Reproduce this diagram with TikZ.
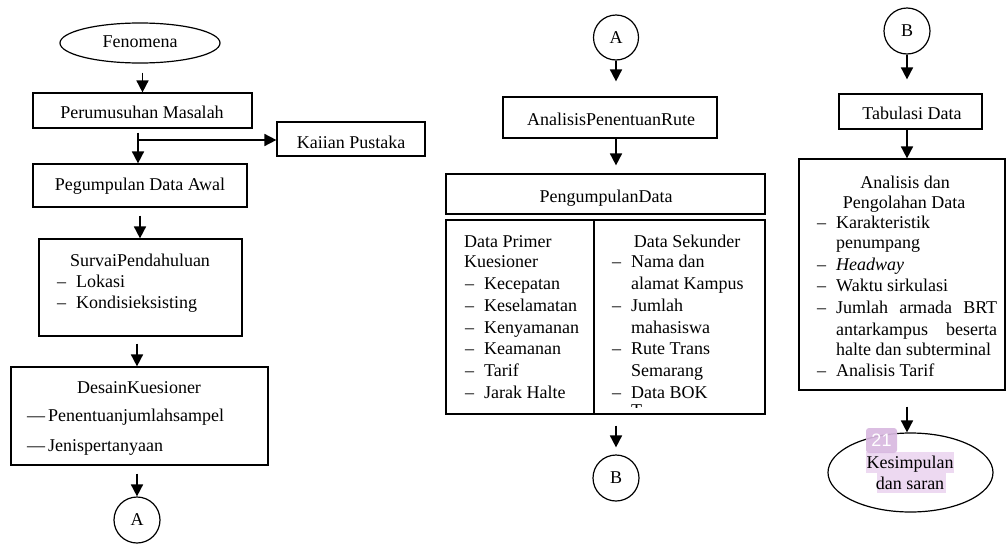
\documentclass[tikz,border=0pt]{standalone}
\usepackage{fontspec}
\setmainfont{Liberation Serif}
\newfontfamily\badgefont{Liberation Sans}
\usetikzlibrary{arrows.meta,shapes.geometric}
\newcommand\myfs{\fontsize{18}{21.5}\selectfont}
\definecolor{hl}{RGB}{237,217,241}
\definecolor{badgec}{RGB}{216,184,224}
\tikzset{
  box/.style={draw, line width=1.2pt, inner sep=0pt},
  ell/.style={draw, ellipse, line width=1.2pt, inner sep=0pt},
  circ/.style={draw, circle, line width=1.2pt, inner sep=0pt, minimum size=46pt},
  arr/.style={line width=1.7pt, -{Triangle[length=12pt,width=12pt]}},
  txt/.style={inner sep=0pt, font=\myfs},
  tl/.style={txt, anchor=base},
  tw/.style={txt, anchor=base west},
}
\begin{document}
\begin{tikzpicture}[x=1pt,y=-1pt]
\useasboundingbox (0,0) rectangle (1007,544);
% ---------------- left column ----------------
\node[ell, minimum width=160pt, minimum height=40pt] (fen) at (140,43) {};
\node[tl] (tfen) at (140,47) {Fenomena};
\node[box, minimum width=219pt, minimum height=35pt] (per) at (142.5,110.5) {};
\node[tl] (tper) at (142,118) {Perumusuhan Masalah};
\node[box, minimum width=148pt, minimum height=34pt] (kaj) at (351,139) {};
\node[tl] (tkaj) at (351,148) {Kaiian Pustaka};
\node[box, minimum width=214pt, minimum height=43pt] (peg) at (140,185.5) {};
\node[tl] (tpeg) at (140,190) {Pegumpulan Data Awal};
\node[box, minimum width=203pt, minimum height=97pt] (sur) at (140.5,287.5) {};
\node[tl] (tsur) at (140,266) {SurvaiPendahuluan};
\node[tw] (sd1) at (57,287) {–};
\node[tw] (si1) at (76,287) {Lokasi};
\node[tw] (sd2) at (57,308) {–};
\node[tw] (si2) at (76,308) {Kondisieksisting};
\node[box, minimum width=257pt, minimum height=98pt] (des) at (139.5,416) {};
\node[tl] (tdes) at (139,393) {DesainKuesioner};
\node[tw] (dd1) at (27,421) {—};
\node[tw] (di1) at (48,421) {Penentuanjumlahsampel};
\node[tw] (dd2) at (27,451) {—};
\node[tw] (di2) at (48,451) {Jenispertanyaan};
\node[circ, font=\myfs] (ca) at (137,520) {A};
\coordinate (j1) at (138,140);
\draw[arr, shorten <=9pt] (fen.south -| per.north) -- (per.north);
\draw[arr, shorten <=4pt] (per.south -| j1) -- (peg.north -| j1);
\draw[arr] (j1) -- (j1 -| kaj.west);
\draw[arr, shorten <=8pt] (peg.south) -- (peg.south |- sur.north);
\draw[arr, shorten <=7pt] (sur.south -| ca) -- (des.north -| ca);
\draw[arr, shorten <=8pt] (des.south -| ca) -- (ca.north);
% ---------------- middle column ----------------
\node[circ, minimum size=45pt, font=\myfs] (ca2) at (616,37.5) {A};
\node[box, minimum width=214pt, minimum height=41pt] (ana) at (610,117.5) {};
\node[tl] (tana) at (611,125) {AnalisisPenentuanRute};
\node[box, minimum width=319pt, minimum height=40pt] (pd) at (605.5,194) {};
\node[tl] (tpd) at (606,202) {PengumpulanData};
\node[box, minimum width=319pt, minimum height=194pt] (tab) at (605.5,317) {};
\coordinate (dv) at (594,0);
\draw[line width=1.2pt] (tab.north -| dv) -- (tab.south -| dv);
\node[tw] (p0) at (464,247) {Data Primer};
\node[tw] (p1) at (464,267) {Kuesioner};
\foreach \y/\t [count=\i] in {289/Kecepatan,311/Keselamatan,333/Kenyamanan,354/Keamanan,376/Tarif,398/Jarak Halte}{
  \node[tw] (pd\i) at (465,\y) {–};
  \node[tw] (pi\i) at (484,\y) {\t};
}
\node[tl] (s0) at (687,247) {Data Sekunder};
\foreach \y [count=\i] in {267,311,354,398}{
  \node[tw] (sd\i) at (612,\y) {–};
}
\node[tw] (s1) at (631,267) {Nama dan};
\node[tw] (s2) at (631,289) {alamat Kampus};
\node[tw] (s3) at (631,311) {Jumlah};
\node[tw] (s4) at (631,333) {mahasiswa};
\node[tw] (s5) at (631,354) {Rute Trans};
\node[tw] (s6) at (631,376) {Semarang};
\node[tw] (s7) at (631,398) {Data BOK};
\begin{scope}
  \clip (596,222) rectangle (763,407);
  \node[tw] (s8) at (631,416.5) {T};
\end{scope}
\node[circ, font=\myfs] (cb2) at (616,478) {B};
\draw[arr, shorten >=15pt] (ca2.south) -- (ca2.south |- ana.north);
\draw[arr, shorten >=8pt] (ana.south -| ca2) -- (pd.north -| ca2);
\draw[arr, shorten <=11pt, shorten >=7pt] (tab.south -| cb2) -- (cb2.north);
% ---------------- right column ----------------
\node[circ, font=\myfs] (cb3) at (907,31) {B};
\node[box, minimum width=143pt, minimum height=35pt] (tb) at (910.5,111.5) {};
\node[tl] (ttb) at (912,119) {Tabulasi Data};
\node[box, minimum width=206pt, minimum height=231pt] (an) at (902,274.5) {};
\node[tl] (a0) at (905,188) {Analisis dan};
\node[tl] (a1) at (904,208) {Pengolahan Data};
\foreach \y [count=\i] in {228,270,291,313,376}{
  \node[tw] (ad\i) at (817,\y) {–};
}
\node[tw] (a2) at (836,228) {Karakteristik};
\node[tw] (a3) at (836,248) {penumpang};
\node[tw] (a4) at (836,270) {\itshape Headway};
\node[tw] (a5) at (836,291) {Waktu sirkulasi};
\node[tw] (a6) at (836,313) {\makebox[161pt][s]{Jumlah armada BRT}};
\node[tw] (a7) at (836,335) {\makebox[161pt][s]{antarkampus beserta}};
\node[tw] (a8) at (836,355) {halte dan subterminal};
\node[tw] (a9) at (836,376) {Analisis Tarif};
\node[ell, minimum width=165pt, minimum height=79pt] (ks) at (910.5,472.5) {};
\fill[hl] (866,452) rectangle (954,473);
\fill[hl] (877,473) rectangle (946,493);
\node[tl] (k1) at (910,468) {Kesimpulan};
\node[tl] (k2) at (910,489) {dan saran};
\node[fill=badgec, fill opacity=0.92, text opacity=1, rounded corners=3pt, minimum width=31pt, minimum height=25pt, inner sep=0pt, text=white, font=\badgefont\fontsize{18}{18}\selectfont] (badge) at (881.5,440.5) {21};
\draw[arr, shorten >=14pt] (cb3.south) -- (cb3.south |- tb.north);
\draw[arr] (tb.south -| cb3) -- (an.north -| cb3);
\draw[arr, shorten <=16pt] (an.south -| cb3) -- (ks.north -| cb3);
\end{tikzpicture}
\end{document}
